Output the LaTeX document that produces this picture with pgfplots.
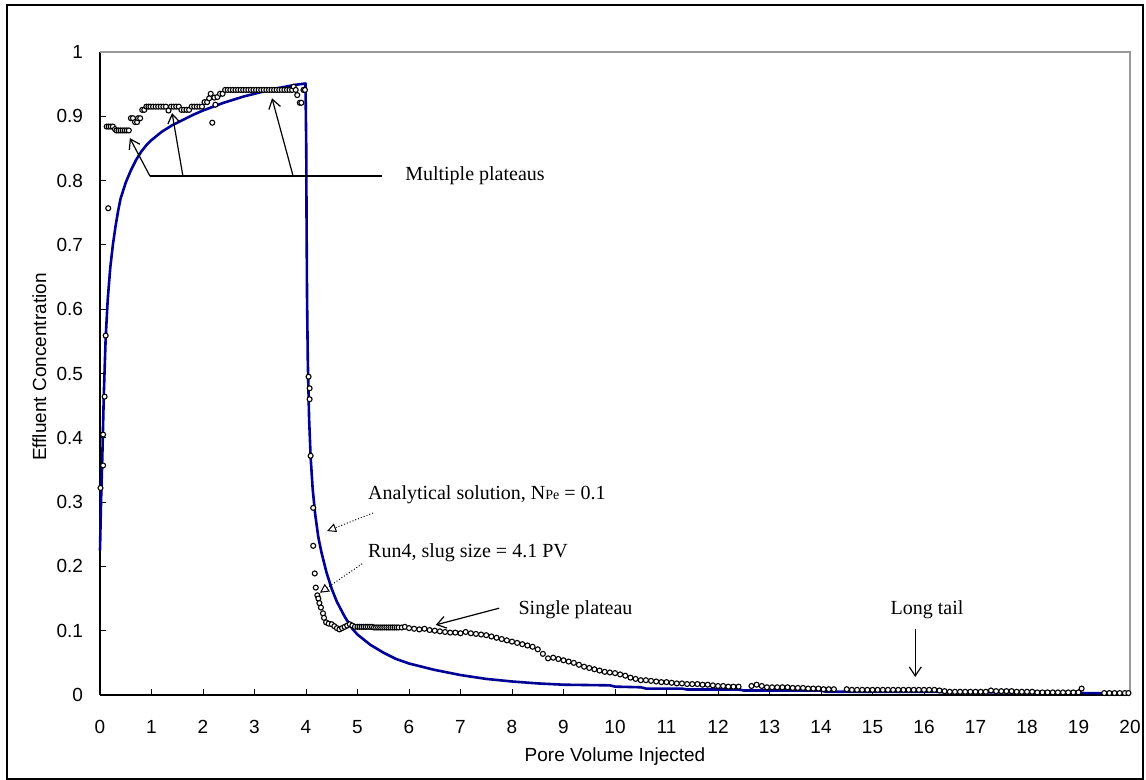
\documentclass[border=0pt]{standalone}
\usepackage{fontspec}
\setmainfont{Liberation Serif}
\newfontfamily\arial{Liberation Sans}
\usepackage{pgfplots}
\pgfplotsset{compat=1.18}
\usetikzlibrary{arrows.meta}
\definecolor{navyline}{RGB}{0,0,150}
\begin{document}
\begin{tikzpicture}[x=1pt,y=1pt]
\useasboundingbox (0,0) rectangle (573,390);
\draw[line width=0.8pt] (3.5,0.5) rectangle (571.5,387.5);
\begin{axis}[
  at={(50pt,42.5pt)}, anchor=south west,
  scale only axis, width=515pt, height=321.5pt,
  xmin=0, xmax=20, ymin=0, ymax=1,
  axis lines=left, axis line style={-, line width=0.6pt},
  xtick={0,1,...,20}, ytick={0,0.1,...,1},
  tick align=inside, major tick length=3pt,
  tick style={black, line width=0.5pt},
  /pgf/number format/assume math mode=true,
  ticklabel style={font=\arial\fontsize{9.5}{11}\selectfont},
  yticklabel style={xshift=-5pt, /pgf/number format/fixed, /pgf/number format/precision=1},
  xticklabel style={yshift=-9pt},
  xlabel={Pore Volume Injected},
  ylabel={Effluent Concentration},
  label style={font=\arial\fontsize{9.5}{11}\selectfont},
  xlabel style={at={(axis description cs:0.5,-0.096)}, anchor=center},
  ylabel style={at={(axis description cs:-0.059,0.51)}, anchor=center},
  clip=false,
]
\draw[gray!80, line width=0.6pt] (rel axis cs:0,1) -- (rel axis cs:1,1) -- (rel axis cs:1,0);
% analytical solution
\addplot[navyline, line width=1.3pt, line join=round] coordinates {
(0,0.225)(0.02,0.30)(0.045,0.37)(0.075,0.47)(0.11,0.555)(0.15,0.615)(0.2,0.665)
(0.25,0.70)(0.3,0.728)(0.35,0.752)(0.4,0.772)(0.5,0.797)(0.6,0.816)(0.7,0.832)
(0.8,0.845)(0.9,0.855)(1.0,0.863)(1.2,0.876)(1.4,0.886)(1.6,0.894)(1.8,0.902)
(2.0,0.909)(2.2,0.915)(2.4,0.921)(2.6,0.926)(2.8,0.931)(3.0,0.935)(3.2,0.939)
(3.4,0.943)(3.6,0.946)(3.8,0.949)(3.99,0.951)
(4.005,0.85)(4.01,0.75)(4.02,0.62)(4.035,0.52)(4.06,0.43)(4.09,0.37)(4.13,0.32)
(4.18,0.28)(4.24,0.245)(4.3,0.222)(4.4,0.19)(4.5,0.165)(4.6,0.145)(4.75,0.122)
(4.9,0.103)(5.0,0.094)(5.25,0.078)(5.5,0.066)(5.75,0.056)(6.0,0.049)(6.5,0.039)
(7.0,0.031)(7.5,0.025)(8.0,0.021)(8.5,0.018)(9.0,0.016)(9.9,0.015)(10.0,0.013)
(10.5,0.012)(10.6,0.010)(11.3,0.010)(11.4,0.0085)(12.4,0.0085)(12.5,0.007)
(14.0,0.007)(14.1,0.005)(16.3,0.005)(16.4,0.004)(19.0,0.004)(19.1,0.003)(20,0.003)
};
% Run4 data
\addplot[only marks, mark=*, mark size=1.25pt, mark options={fill=white, draw=black, line width=0.55pt}] coordinates {
(0.01,0.322)(0.06,0.357)(0.06,0.405)(0.09,0.464)(0.11,0.559)(0.16,0.757)
(0.13,0.884)(0.17,0.884)(0.21,0.884)(0.25,0.884)(0.29,0.880)(0.32,0.878)(0.36,0.878)
(0.40,0.878)(0.44,0.878)(0.48,0.878)(0.52,0.878)(0.56,0.878)
(0.60,0.897)(0.64,0.897)(0.68,0.891)(0.72,0.891)(0.74,0.897)(0.78,0.897)(0.82,0.910)(0.86,0.910)
(0.90,0.915)(0.94,0.915)(0.98,0.915)(1.03,0.915)(1.08,0.915)(1.13,0.915)(1.18,0.915)
(1.23,0.915)(1.28,0.915)(1.33,0.909)(1.38,0.915)(1.43,0.915)(1.48,0.915)(1.53,0.915)
(1.58,0.910)(1.63,0.910)(1.68,0.910)(1.73,0.910)
(1.78,0.915)(1.83,0.915)(1.88,0.915)(1.93,0.915)(1.98,0.915)
(2.03,0.922)(2.08,0.922)(2.12,0.928)(2.15,0.935)(2.18,0.890)(2.22,0.929)(2.24,0.918)
(2.28,0.930)(2.33,0.935)(2.38,0.935)
(2.43,0.941)(2.48,0.941)(2.53,0.941)(2.58,0.941)(2.63,0.941)(2.68,0.941)(2.73,0.941)
(2.78,0.941)(2.83,0.941)(2.88,0.941)(2.93,0.941)(2.98,0.941)(3.03,0.941)(3.08,0.941)
(3.13,0.941)(3.18,0.941)(3.23,0.941)(3.28,0.941)(3.33,0.941)(3.38,0.941)(3.43,0.941)
(3.48,0.941)(3.53,0.941)(3.58,0.941)(3.63,0.941)(3.68,0.941)(3.73,0.941)
(3.76,0.946)(3.80,0.941)(3.83,0.933)(3.88,0.921)(3.91,0.921)(3.95,0.941)(3.98,0.941)
(4.05,0.495)(4.07,0.477)(4.07,0.460)(4.09,0.372)(4.14,0.291)(4.14,0.232)(4.17,0.189)
(4.19,0.167)(4.22,0.155)(4.24,0.150)(4.26,0.143)(4.29,0.136)(4.33,0.127)(4.35,0.120)
(4.39,0.113)(4.44,0.111)(4.50,0.110)(4.55,0.107)(4.60,0.104)(4.65,0.102)(4.70,0.104)
(4.75,0.106)(4.80,0.108)(4.85,0.110)(4.90,0.108)
(4.95,0.106)(5.00,0.106)(5.04,0.106)(5.08,0.106)(5.12,0.106)(5.16,0.106)(5.20,0.106)
(5.24,0.106)(5.28,0.106)(5.32,0.105)(5.36,0.105)(5.40,0.105)(5.44,0.105)(5.48,0.105)
(5.52,0.105)(5.56,0.105)(5.60,0.105)(5.64,0.105)(5.68,0.105)(5.72,0.105)(5.76,0.105)
(5.80,0.105)(5.86,0.105)(5.92,0.106)
(6.0,0.104)(6.1,0.103)(6.2,0.102)(6.3,0.103)(6.4,0.101)(6.5,0.100)(6.6,0.099)(6.7,0.098)
(6.8,0.097)(6.9,0.097)(7.0,0.096)(7.1,0.098)(7.2,0.096)(7.3,0.095)(7.4,0.094)(7.5,0.093)
(7.6,0.091)(7.7,0.089)(7.8,0.087)(7.9,0.085)(8.0,0.083)(8.1,0.081)(8.2,0.079)(8.3,0.077)
(8.4,0.075)(8.5,0.071)(8.6,0.064)(8.7,0.057)(8.8,0.058)(8.9,0.056)(9.0,0.054)(9.1,0.052)
(9.2,0.050)(9.3,0.047)(9.4,0.044)(9.5,0.042)(9.6,0.040)(9.7,0.038)(9.8,0.036)(9.9,0.035)
(10.0,0.034)(10.1,0.032)(10.2,0.030)(10.3,0.027)(10.4,0.025)(10.5,0.023)(10.6,0.023)
(10.7,0.022)(10.8,0.021)(10.9,0.020)(11.0,0.020)(11.1,0.019)(11.2,0.018)(11.3,0.018)
(11.4,0.017)(11.5,0.017)(11.6,0.017)(11.7,0.016)(11.8,0.016)(11.9,0.015)(12.0,0.014)
(12.1,0.014)(12.2,0.013)(12.3,0.013)(12.4,0.013)
(12.65,0.014)(12.75,0.016)(12.85,0.014)(12.95,0.012)(13.05,0.012)(13.15,0.012)(13.25,0.012)
(13.35,0.012)(13.45,0.011)(13.55,0.011)(13.65,0.011)(13.75,0.010)(13.85,0.010)(13.95,0.010)
(14.05,0.009)(14.15,0.009)(14.25,0.009)
(14.5,0.009)(14.6,0.008)(14.7,0.008)(14.8,0.008)(14.9,0.008)(15.0,0.008)(15.1,0.008)
(15.2,0.008)(15.3,0.008)(15.4,0.008)(15.5,0.008)(15.6,0.008)(15.7,0.008)(15.8,0.008)
(15.9,0.008)(16.0,0.008)(16.1,0.008)(16.2,0.008)(16.3,0.007)
(16.4,0.006)(16.5,0.005)(16.6,0.005)(16.7,0.005)(16.8,0.005)(16.9,0.005)(17.0,0.005)
(17.1,0.005)(17.2,0.005)(17.3,0.007)(17.4,0.006)(17.5,0.006)(17.6,0.006)(17.7,0.006)
(17.8,0.005)(17.9,0.005)(18.0,0.005)(18.1,0.005)(18.2,0.004)(18.3,0.004)(18.4,0.004)
(18.5,0.004)(18.6,0.004)(18.7,0.004)(18.8,0.004)(18.9,0.004)(19.0,0.004)(19.06,0.010)
(19.5,0.003)(19.6,0.003)(19.7,0.003)(19.8,0.003)(19.9,0.003)(19.97,0.003)
};
% annotations
\draw[line width=0.6pt] (axis cs:0.97,0.807) -- (axis cs:5.48,0.807);
\draw[line width=0.6pt, -{Straight Barb[length=4.5pt,width=6pt]}] (axis cs:0.97,0.807) -- (axis cs:0.58,0.866);
\draw[line width=0.6pt, -{Straight Barb[length=4.5pt,width=6pt]}] (axis cs:1.61,0.807) -- (axis cs:1.40,0.905);
\draw[line width=0.6pt, -{Straight Barb[length=4.5pt,width=6pt]}] (axis cs:3.75,0.807) -- (axis cs:3.34,0.928);
\node[anchor=west, font=\fontsize{10}{12}\selectfont, inner sep=0pt] at (axis cs:5.92,0.807) {Multiple plateaus};
\node[anchor=west, font=\fontsize{10}{12}\selectfont, inner sep=0pt] at (axis cs:5.2,0.311) {Analytical solution, N{\fontsize{7}{8}\selectfont Pe} = 0.1};
\draw[line width=0.5pt, densely dotted, -{Triangle[open,length=4.5pt,width=4.5pt]}] (axis cs:5.3,0.283) -- (axis cs:4.41,0.255);
\node[anchor=west, font=\fontsize{10}{12}\selectfont, inner sep=0pt] at (axis cs:5.2,0.222) {Run4, slug size = 4.1 PV};
\draw[line width=0.5pt, densely dotted, -{Triangle[open,length=4.5pt,width=4.5pt]}] (axis cs:5.09,0.204) -- (axis cs:4.27,0.159);
\node[anchor=west, font=\fontsize{10}{12}\selectfont, inner sep=0pt] at (axis cs:8.12,0.132) {Single plateau};
\draw[line width=0.6pt, -{Straight Barb[length=4.5pt,width=6pt]}] (axis cs:7.75,0.135) -- (axis cs:6.52,0.109);
\node[anchor=center, font=\fontsize{10}{12}\selectfont, inner sep=0pt] at (axis cs:16.06,0.132) {Long tail};
\draw[line width=0.6pt, -{Straight Barb[length=4.5pt,width=6pt]}] (axis cs:15.83,0.103) -- (axis cs:15.83,0.028);
\end{axis}
\end{tikzpicture}
\end{document}
